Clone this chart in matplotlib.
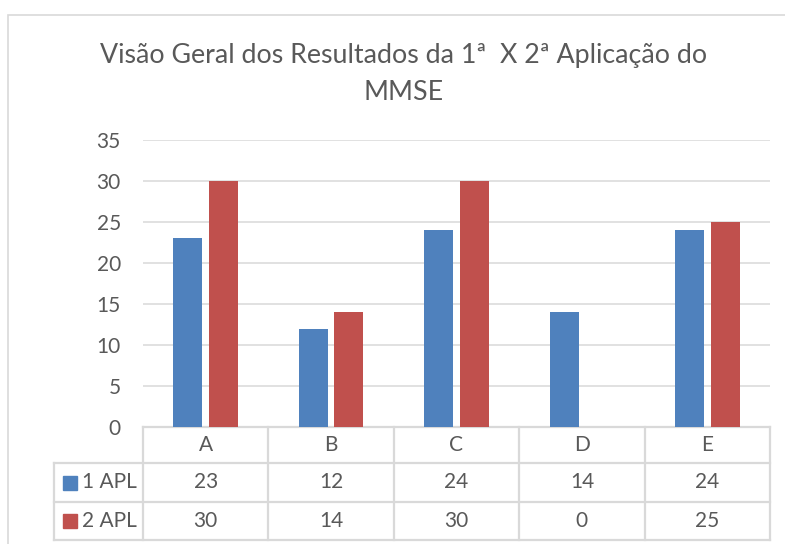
import numpy as np
import matplotlib.pyplot as plt
import matplotlib.transforms as mtransforms
from matplotlib.patches import Rectangle

categories = ['A', 'B', 'C', 'D', 'E']
apl1 = [23, 12, 24, 14, 24]
apl2 = [30, 14, 30, 0, 25]
series_names = ['1 APL', '2 APL']
yticks = [0, 5, 10, 15, 20, 25, 30, 35]

blue = '#4F81BD'
red = '#C0504D'
grid_c = '#D9D9D9'
text_c = '#595959'

plt.rcParams['font.family'] = ['Lato', 'DejaVu Sans']

W, H = 785, 544
fig = plt.figure(figsize=(W / 100, H / 100), dpi=100)

# plot area in pixels
x0, x1 = 143, 770
y_top, y_bot = 140, 427
ax = fig.add_axes([x0 / W, 1 - y_bot / H, (x1 - x0) / W, (y_bot - y_top) / H])

# outer chart frame (only top and left are visible in the crop)
fig.patches.append(Rectangle((8 / W, -0.1), 1.2, 1 - 15 / H + 0.1, transform=fig.transFigure,
                             fill=False, edgecolor=grid_c, lw=1.2))

x = np.arange(len(categories)) + 0.5
w = 0.23
ax.bar(x - 0.142, apl1, w, color=blue, zorder=3)
ax.bar(x + 0.142, apl2, w, color=red, zorder=3)

ax.set_xlim(0, len(categories))
ax.set_ylim(0, 35)
ax.set_yticks(yticks)
ax.set_xticks([])
ax.tick_params(axis='y', length=0, pad=16, labelsize=15, labelcolor=text_c)
for t in yticks[1:]:
    ax.axhline(t, color=grid_c, lw=1.1, zorder=1)
for s in ax.spines.values():
    s.set_visible(False)

# data table below the axis
ppx = (x1 - x0) / len(categories)
def ay(py):
    return (y_bot - py) / (y_bot - y_top)

tr = mtransforms.blended_transform_factory(ax.transData, ax.transAxes)
xl = (54 - x0) / ppx
rows = [427, 463, 502, 540]
lkw = dict(color=grid_c, lw=1.6, transform=tr, clip_on=False, zorder=2)

ax.plot([0, 5], [ay(427)] * 2, **lkw)
for r in rows[1:]:
    ax.plot([xl, 5], [ay(r)] * 2, **lkw)
for i in range(len(categories) + 1):
    ax.plot([i, i], [ay(427), ay(540)], **lkw)
ax.plot([xl, xl], [ay(463), ay(540)], **lkw)

fs = 15
for i, c in enumerate(categories):
    ax.text(x[i], ay((427 + 463) / 2), c, ha='center', va='center', fontsize=fs,
            color=text_c, transform=tr)
    ax.text(x[i], ay((463 + 502) / 2), str(apl1[i]), ha='center', va='center', fontsize=fs,
            color=text_c, transform=tr)
    ax.text(x[i], ay((502 + 540) / 2), str(apl2[i]), ha='center', va='center', fontsize=fs,
            color=text_c, transform=tr)

for name, col, (ra, rb) in zip(series_names, [blue, red], [(463, 502), (502, 540)]):
    yc = (ra + rb) / 2
    fig.patches.append(Rectangle((63 / W, 1 - (yc + 7) / H), 14 / W, 14 / H,
                                 transform=fig.transFigure, color=col))
    fig.text(82 / W, 1 - yc / H, name, ha='left', va='center', fontsize=fs, color=text_c)

fig.text(404 / W, 1 - 55 / H, 'Visão Geral dos Resultados da 1ª  X 2ª Aplicação do',
         ha='center', va='center', fontsize=19.3, color=text_c)
fig.text(404 / W, 1 - 92 / H, 'MMSE', ha='center', va='center', fontsize=19.3, color=text_c)

fig.savefig('out.png', dpi=100)
